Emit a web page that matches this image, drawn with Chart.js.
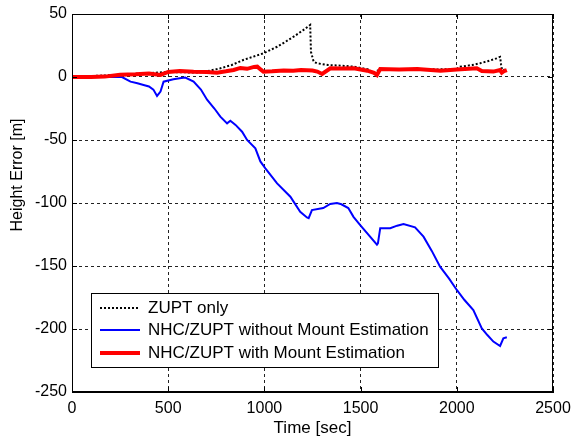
<!DOCTYPE html>
<html>
<head>
<meta charset="utf-8">
<script src="https://cdn.jsdelivr.net/npm/chart.js@4/dist/chart.umd.min.js"></script>
<style>
  html, body { margin: 0; padding: 0; background: #fff; }
  #wrap { width: 572px; height: 439px; }
</style>
</head>
<body>
<div id="wrap"><canvas id="chart"></canvas></div>
<script>
// 시간 [sec] / 높이 오차 [m]
const zuptTime = [0, 250, 500, 650, 700, 771, 830, 890, 940, 995, 1066, 1110, 1152, 1200, 1238, 1242, 1256, 1273, 1330, 1400, 1464, 1540, 1568, 1600, 1800, 1900, 2000, 2017, 2080, 2121, 2160, 2207, 2225, 2230, 2235, 2260];
const zuptErr  = [0, 1.8, 4, 3.5, 4.5, 6.9, 9.5, 13.5, 16, 18.8, 24, 28, 32, 37, 41.3, 20, 12.1, 10.9, 9.5, 9, 8.2, 6, 3.4, 6, 6.5, 6, 6.5, 8.2, 9.5, 10.9, 12.5, 14.8, 16, 10, 5.5, 6];

const noMountTime = [0, 200, 260, 304, 340, 372, 400, 423, 442, 460, 476, 527, 560, 589, 632, 670, 702, 740, 771, 806, 823, 850, 884, 910, 953, 979, 1005, 1066, 1135, 1186, 1221, 1230, 1247, 1306, 1342, 1377, 1400, 1436, 1463, 1498, 1585, 1590, 1602, 1654, 1690, 1723, 1783, 1827, 1870, 1913, 1960, 2000, 2040, 2086, 2130, 2160, 2190, 2225, 2242, 2260];
const noMountErr  = [0, 0, 0, -3.7, -5, -6.3, -7.5, -10, -15, -11.6, -3.7, -1.8, -1, -0.5, -3.7, -10, -18, -25, -31.5, -36.8, -34.7, -38, -43.4, -50, -56.6, -67, -72.5, -84.4, -95, -107, -111.5, -112, -105.6, -104, -100.8, -100, -101, -104, -111, -117.5, -133, -132, -120, -120, -118, -116.7, -119.3, -126.7, -138, -150.5, -160, -169, -177, -185, -199.5, -205, -210, -213.5, -207.4, -206.6];

const mountTime = [0, 100, 170, 250, 330, 400, 460, 500, 560, 632, 700, 754, 800, 840, 875, 910, 946, 963, 980, 995, 1040, 1100, 1150, 1190, 1250, 1275, 1300, 1343, 1400, 1464, 1535, 1570, 1585, 1602, 1700, 1794, 1915, 2000, 2104, 2130, 2190, 2225, 2234, 2245, 2260];
const mountErr  = [0, 0, 0.3, 1.8, 2.2, 2.8, 1.6, 4, 4.8, 4.2, 4, 3.4, 4.5, 5.6, 7.2, 6.5, 8, 8.2, 6, 4.2, 4.5, 5.2, 5, 5.5, 5.2, 4.3, 2.4, 6.9, 6.8, 6.9, 5, 3.3, 1.6, 6.3, 6, 6.3, 5, 6, 6.9, 4.8, 4.3, 5.5, 3.4, 4.6, 5.5];

const xTicks = [0, 500, 1000, 1500, 2000, 2500];
const yTicks = [-250, -200, -150, -100, -50, 0, 50];

const FONT = 'Liberation Sans, Arial, sans-serif';

function toPoints(xs, ys) {
    return xs.map((x, i) => ({ x: x, y: ys[i] }));
}

const datasets = [{
    label: 'ZUPT only',
    data: toPoints(zuptTime, zuptErr),
    borderColor: '#000000',
    borderWidth: 2,
    borderDash: [2, 2],
    order: 1
}, {
    label: 'NHC/ZUPT without Mount Estimation',
    data: toPoints(noMountTime, noMountErr),
    borderColor: '#0000ff',
    borderWidth: 2,
    order: 2
}, {
    label: 'NHC/ZUPT with Mount Estimation',
    data: toPoints(mountTime, mountErr),
    borderColor: '#ff0000',
    borderWidth: 4,
    order: 0
}];

// 박스 테두리, 안쪽 눈금, y축 제목, 범례
const framePlugin = {
    id: 'frame',
    afterDraw(chart) {
        const ctx = chart.ctx;
        const a = chart.chartArea;
        const xs = chart.scales.x, ys = chart.scales.y;
        ctx.save();
        ctx.strokeStyle = '#000';
        ctx.lineWidth = 1;
        ctx.setLineDash([]);
        ctx.strokeRect(a.left + 0.5, a.top + 0.5, a.right - a.left - 1, a.bottom - a.top - 1);
        ctx.beginPath();
        xTicks.forEach(v => {
            const px = Math.round(xs.getPixelForValue(v)) + 0.5;
            ctx.moveTo(px, a.bottom); ctx.lineTo(px, a.bottom - 5);
            ctx.moveTo(px, a.top); ctx.lineTo(px, a.top + 5);
        });
        yTicks.forEach(v => {
            const py = Math.round(ys.getPixelForValue(v)) + 0.5;
            ctx.moveTo(a.left, py); ctx.lineTo(a.left + 5, py);
            ctx.moveTo(a.right, py); ctx.lineTo(a.right - 5, py);
        });
        ctx.stroke();

        // y축 제목
        ctx.save();
        ctx.translate(18, 175);
        ctx.rotate(-Math.PI / 2);
        ctx.fillStyle = '#000';
        ctx.font = '16px ' + FONT;
        ctx.textAlign = 'center';
        ctx.textBaseline = 'middle';
        ctx.fillText('Height Error [m]', 0, 0);
        ctx.restore();

        // 범례
        const bx = 91, by = 293, bw = 347, bh = 74;
        ctx.fillStyle = '#fff';
        ctx.fillRect(bx, by, bw, bh);
        ctx.strokeRect(bx + 0.5, by + 0.5, bw, bh);
        const rows = [308, 330, 353];
        const legendOrder = [0, 1, 2];
        ctx.font = '17px ' + FONT;
        ctx.textBaseline = 'middle';
        ctx.textAlign = 'left';
        legendOrder.forEach((di, i) => {
            const ds = chart.data.datasets[di];
            ctx.beginPath();
            ctx.strokeStyle = ds.borderColor;
            ctx.lineWidth = ds.borderWidth;
            ctx.setLineDash(ds.borderDash || []);
            ctx.moveTo(100, rows[i]);
            ctx.lineTo(140, rows[i]);
            ctx.stroke();
            ctx.setLineDash([]);
            ctx.fillStyle = '#000';
            ctx.fillText(ds.label, 148, rows[i]);
        });
        ctx.restore();
    }
};

new Chart(document.getElementById('chart').getContext('2d'), {
    type: 'line',
    data: { datasets: datasets },
    plugins: [framePlugin],
    options: {
        responsive: true,
        maintainAspectRatio: false,
        animation: false,
        elements: {
            point: { radius: 0 },
            line: { tension: 0, fill: false }
        },
        layout: { padding: { left: 0, right: 19, top: 14, bottom: 0 } },
        plugins: {
            legend: { display: false },
            tooltip: { enabled: false }
        },
        scales: {
            x: {
                type: 'linear',
                min: 0,
                max: 2500,
                afterFit(scale) {
                    scale.height = 47;
                    scale.paddingLeft = 0;
                    scale.paddingRight = 0;
                },
                afterBuildTicks(scale) { scale.ticks = xTicks.map(v => ({ value: v })); },
                grid: {
                    color: '#222',
                    lineWidth: 1,
                    drawTicks: false
                },
                border: { display: true, color: '#000', dash: [3, 3] },
                ticks: {
                    color: '#000',
                    padding: 7,
                    maxRotation: 0,
                    font: { family: FONT, size: 16 },
                    callback: v => String(v)
                },
                title: {
                    display: true,
                    text: 'Time [sec]',
                    color: '#000',
                    padding: { top: 0, bottom: 0 },
                    font: { family: FONT, size: 17 }
                }
            },
            y: {
                type: 'linear',
                min: -250,
                max: 50,
                afterFit(scale) {
                    scale.width = 72;
                    scale.paddingTop = 0;
                    scale.paddingBottom = 0;
                },
                afterBuildTicks(scale) { scale.ticks = yTicks.map(v => ({ value: v })); },
                grid: {
                    color: '#222',
                    lineWidth: 1,
                    drawTicks: false
                },
                border: { display: true, color: '#000', dash: [3, 3] },
                ticks: {
                    color: '#000',
                    padding: 5,
                    font: { family: FONT, size: 16 },
                    callback: v => String(v)
                }
            }
        }
    }
});
</script>
</body>
</html>
